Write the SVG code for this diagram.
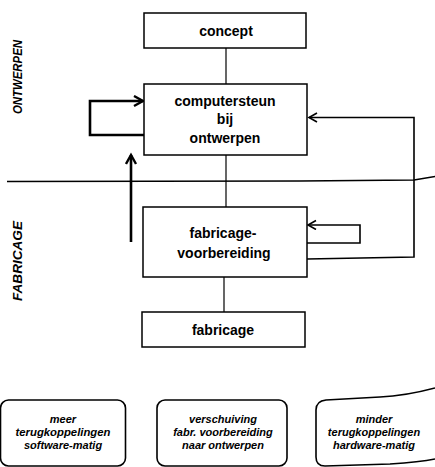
<svg xmlns="http://www.w3.org/2000/svg" width="435" height="467" viewBox="0 0 435 467">
<style>
.box{fill:#fff;stroke:#000;stroke-width:1.5}
.t{font-family:"Liberation Sans",Arial,sans-serif;font-weight:bold;font-size:14px;text-anchor:middle;fill:#000}
.side{font-family:"Liberation Sans",Arial,sans-serif;font-weight:bold;font-style:italic;font-size:13.5px;text-anchor:middle;fill:#000}
.note{font-family:"Liberation Sans",Arial,sans-serif;font-weight:bold;font-style:italic;font-size:11px;text-anchor:middle;fill:#000}
.thin{fill:none;stroke:#000;stroke-width:1.2}
.mid{fill:none;stroke:#000;stroke-width:1.6}
.thick{fill:none;stroke:#000;stroke-width:2.6}
.rbox{fill:none;stroke:#000;stroke-width:1.6}
</style>
<defs>
<marker id="ah" markerUnits="userSpaceOnUse" markerWidth="12" markerHeight="12" refX="9" refY="5" orient="auto">
<path d="M1,0.5 L9,5 L1,9.5" fill="none" stroke="#000" stroke-width="1.6"/>
</marker>
<marker id="ahb" markerUnits="userSpaceOnUse" markerWidth="14" markerHeight="14" refX="10" refY="6" orient="auto">
<path d="M1,1 L10,6 L1,11" fill="none" stroke="#000" stroke-width="2.4"/>
</marker>
</defs>
<g id="labels">
<text class="side" transform="translate(22,77) rotate(-90)" textLength="74" lengthAdjust="spacingAndGlyphs">ONTWERPEN</text>
<text class="side" transform="translate(22,261) rotate(-90)" textLength="80" lengthAdjust="spacingAndGlyphs">FABRICAGE</text>
</g>
<g id="connectors">
<path class="mid" d="M7,181.5 L300,181 L414,180 L435,176.5"/>
<line class="thin" x1="226" y1="48" x2="226" y2="84"/>
<line class="thin" x1="226" y1="155" x2="226" y2="207"/>
<line class="thin" x1="224" y1="277" x2="224" y2="312"/>
<path class="thick" d="M144,135 L90,135 L90,101 L143,101" marker-end="url(#ahb)"/>
<line class="thick" x1="131" y1="242" x2="131" y2="155" marker-end="url(#ahb)"/>
<path class="mid" d="M307,259 L414,257 L414,117.5 L309,117.5" marker-end="url(#ah)"/>
<path class="mid" d="M307,243 L360,243 L360,225 L308,225" marker-end="url(#ah)"/>
</g>
<g id="concept">
<rect class="box" x="144" y="13" width="162" height="35"/>
<text class="t" x="226" y="36">concept</text>
</g>
<g id="computersteun">
<rect class="box" x="144" y="84" width="163" height="71"/>
<text class="t" x="225" y="106">computersteun</text>
<text class="t" x="225" y="124">bij</text>
<text class="t" x="225" y="143">ontwerpen</text>
</g>
<g id="fabricage-voorbereiding">
<rect class="box" x="143" y="207" width="164" height="70"/>
<text class="t" x="223" y="238">fabricage-</text>
<text class="t" x="224" y="258">voorbereiding</text>
</g>
<g id="fabricage">
<rect class="box" x="142" y="312" width="163" height="35"/>
<text class="t" x="223" y="335">fabricage</text>
</g>
<g id="note1">
<rect class="rbox" x="0.5" y="400" width="125" height="66" rx="8"/>
<text class="note" x="63" y="423">meer</text>
<text class="note" x="63" y="436" textLength="95" lengthAdjust="spacingAndGlyphs">terugkoppelingen</text>
<text class="note" x="63" y="449">software-matig</text>
</g>
<g id="note2">
<rect class="rbox" x="157" y="400" width="130" height="66" rx="8"/>
<text class="note" x="223" y="423">verschuiving</text>
<text class="note" x="223" y="436">fabr. voorbereiding</text>
<text class="note" x="223" y="449">naar ontwerpen</text>
</g>
<g id="note3">
<path class="rbox" d="M435,388 Q405,396 380,397 L326,400 Q316,401 316,410 L316,457 Q316,466 325,466 L390,464 Q420,462 435,459"/>
<text class="note" x="374" y="423">minder</text>
<text class="note" x="374" y="436">terugkoppelingen</text>
<text class="note" x="374" y="449">hardware-matig</text>
</g>
</svg>
